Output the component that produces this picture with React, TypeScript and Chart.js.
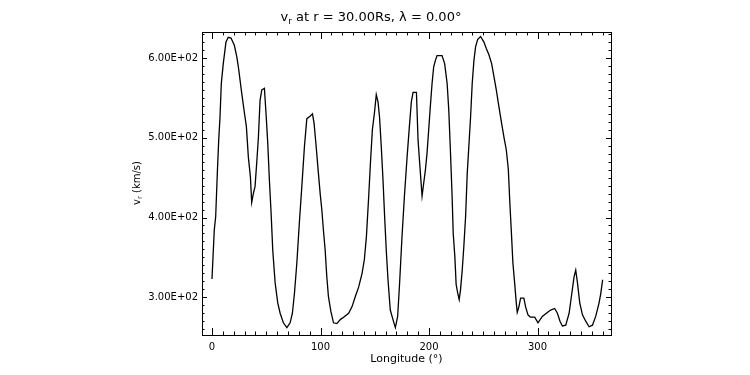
import React, { useEffect, useRef } from "react";
import { Chart, registerables } from "chart.js";

Chart.register(...registerables);

const longitude = [
  0, 2.1, 3.4, 4.9, 6.2, 7.4, 8.6, 10.4, 12.9, 15, 17.5, 20.6, 22.8, 24.3, 25.9, 27.4, 29.9, 31.7, 33.5, 35.4,
  36.6, 38.1, 39.7, 41.2, 42.8, 44.3, 45.9, 48.3, 50, 51.4, 52.9, 54.5, 56, 58.2, 60.6, 62.8, 65.8, 69, 72, 74.1,
  76, 78.2, 80.3, 82.8, 85.2, 87.4, 90.4, 92.6, 94.1, 96, 98.1, 99.7, 101.2, 102.7, 104.3, 105.8, 107.3, 109.6, 112, 115.1,
  118.2, 121.3, 125.9, 129, 132.1, 135.2, 138.3, 140.4, 142.3, 144.4, 146, 147.8, 149.7, 151.4, 153, 154.4, 156, 157.6, 159.1, 160.6,
  162.2, 164.3, 166.8, 169, 171.1, 172.9, 175.1, 177.3, 179.8, 181.9, 183.7, 185.3, 188.4, 189.9, 191.4, 192.3, 193.6, 195.1, 196.7, 198.2,
  199.7, 201.2, 202.8, 204.3, 205.9, 207.4, 212, 214.4, 216.7, 218.2, 219.8, 221.3, 222.3, 223.8, 225, 226.5, 227.8, 229, 230.6, 232.1,
  233.7, 235.2, 236.7, 238.3, 239.8, 241.4, 242.9, 244.8, 247.5, 250.6, 252.8, 255.2, 257.7, 259.8, 262, 264.4, 266.9, 269, 271.2, 273.1,
  274.5, 276.1, 277.3, 278.9, 280.4, 281.3, 282.8, 284.4, 287.4, 289, 291.2, 293.4, 297.4, 300.4, 304.4, 309, 312.1, 315.8, 318.3, 320.7,
  322.9, 326, 329.1, 331.6, 333.7, 335.2, 336.8, 338.9, 341.4, 344.4, 347.5, 350.6, 353.6, 356.7, 358.3, 360,
];

const vr = [
  323, 384, 401, 455, 497, 526, 568, 593, 620, 626, 625, 616, 602, 589, 572, 556, 531, 514, 476, 451,
  419, 430, 439, 468, 501, 547, 560, 562, 526, 493, 447, 405, 359, 318, 293, 280, 268, 262, 268, 280,
  305, 343, 389, 439, 489, 524, 527, 530, 518, 489, 455, 430, 410, 384, 359, 326, 301, 282, 268, 267,
  272, 275, 280, 288, 301, 313, 330, 347, 376, 426, 468, 510, 531, 554, 545, 526, 489, 447, 401, 359,
  322, 284, 272, 262, 276, 318, 376, 426, 476, 514, 545, 557, 557, 497, 468, 451, 427, 443, 460, 481,
  510, 539, 568, 589, 597, 603, 603, 593, 568, 535, 481, 426, 380, 351, 316, 305, 297, 309, 334, 364,
  401, 455, 489, 526, 568, 597, 614, 623, 627, 620, 612, 604, 593, 577, 560, 539, 518, 501, 485, 460,
  418, 376, 343, 318, 293, 281, 288, 299, 299, 288, 278, 275, 275, 268, 276, 281, 284, 286, 280, 270,
  264, 265, 280, 305, 326, 334, 318, 293, 278, 270, 263, 265, 276, 293, 305, 322,
];

const xTickValues = [0, 100, 200, 300];
const yTickValues = [300, 400, 500, 600];
const xMin = -9.2;
const xMax = 367.7;
const yMin = 252.7;
const yMax = 632.6;
const titleText = ["v", "r", " at r = 30.00Rs, \u03bb = 0.00\u00b0"];
const yTitleText = ["v", "r", " (km/s)"];
const xTitleText = "Longitude (\u00b0)";

const FONT = "DejaVu Sans";

const boxPlugin = {
  id: "idlBox",
  afterDraw(chart: any) {
    const { ctx, chartArea: a, scales } = chart;
    const xs = scales.x;
    const ys = scales.y;
    ctx.save();
    ctx.strokeStyle = "#000";
    ctx.lineWidth = 1;
    ctx.strokeRect(Math.round(a.left) + 0.5, Math.round(a.top) + 0.5, Math.round(a.right - a.left), Math.round(a.bottom - a.top));
    ctx.beginPath();
    for (let v = 0; v <= xMax; v += 10) {
      const px = Math.round(xs.getPixelForValue(v)) + 0.5;
      const len = v % 100 === 0 ? 7 : 3.5;
      ctx.moveTo(px, a.bottom);
      ctx.lineTo(px, a.bottom - len);
      ctx.moveTo(px, a.top);
      ctx.lineTo(px, a.top + len);
    }
    for (let v = 260; v <= yMax; v += 10) {
      const py = Math.round(ys.getPixelForValue(v)) + 0.5;
      const len = v % 100 === 0 ? 5 : 2.5;
      ctx.moveTo(a.left, py);
      ctx.lineTo(a.left + len, py);
      ctx.moveTo(a.right, py);
      ctx.lineTo(a.right - len, py);
    }
    ctx.stroke();

    ctx.fillStyle = "#000";
    // title
    const big = `13px '${FONT}'`;
    const small = `9px '${FONT}'`;
    ctx.font = big;
    const w0 = ctx.measureText(titleText[0]).width;
    const w2 = ctx.measureText(titleText[2]).width;
    ctx.font = small;
    const w1 = ctx.measureText(titleText[1]).width;
    const total = w0 + w1 + w2;
    let tx = 371 - total / 2;
    const ty = 21;
    ctx.textBaseline = "alphabetic";
    ctx.textAlign = "left";
    ctx.font = big;
    ctx.fillText(titleText[0], tx, ty);
    tx += w0;
    ctx.font = small;
    ctx.fillText(titleText[1], tx, ty + 3);
    tx += w1;
    ctx.font = big;
    ctx.fillText(titleText[2], tx, ty);

    // x title
    ctx.font = `11px '${FONT}'`;
    ctx.textAlign = "center";
    ctx.fillText(xTitleText, (a.left + a.right) / 2, 362);

    // y title rotated
    ctx.save();
    ctx.translate(140, 183);
    ctx.rotate(-Math.PI / 2);
    const yb = `10px '${FONT}'`;
    const ys2 = `7px '${FONT}'`;
    ctx.font = yb;
    const a0 = ctx.measureText(yTitleText[0]).width;
    const a2 = ctx.measureText(yTitleText[2]).width;
    ctx.font = ys2;
    const a1 = ctx.measureText(yTitleText[1]).width;
    let yx = -(a0 + a1 + a2) / 2;
    ctx.textAlign = "left";
    ctx.font = yb;
    ctx.fillText(yTitleText[0], yx, 0);
    yx += a0;
    ctx.font = ys2;
    ctx.fillText(yTitleText[1], yx, 2);
    yx += a1;
    ctx.font = yb;
    ctx.fillText(yTitleText[2], yx, 0);
    ctx.restore();
    ctx.restore();
  },
};

export default function App() {
  const ref = useRef<HTMLCanvasElement | null>(null);
  useEffect(() => {
    if (!ref.current) return;
    const points = longitude.map((x, i) => ({ x, y: vr[i] }));
    const chart = new Chart(ref.current, {
      type: "scatter",
      data: {
        datasets: [
          {
            data: points,
            showLine: true,
            borderColor: "#000",
            borderWidth: 1.3,
            pointRadius: 0,
            tension: 0,
          },
        ],
      },
      options: {
        responsive: false,
        animation: false,
        layout: { padding: { left: 0, right: 139, top: 32, bottom: 0 } },
        plugins: { legend: { display: false }, tooltip: { enabled: false }, title: { display: false } },
        scales: {
          x: {
            type: "linear",
            min: xMin,
            max: xMax,
            grid: { display: false, drawTicks: false },
            border: { display: false },
            afterBuildTicks: (s: any) => {
              s.ticks = xTickValues.map((v) => ({ value: v }));
            },
            afterFit: (s: any) => {
              s.height = 40;
            },
            ticks: {
              color: "#000",
              padding: 6,
              maxRotation: 0,
              font: { family: FONT, size: 10 },
              callback: (v: any) => String(v),
            },
          },
          y: {
            type: "linear",
            min: yMin,
            max: yMax,
            grid: { display: false, drawTicks: false },
            border: { display: false },
            afterBuildTicks: (s: any) => {
              s.ticks = yTickValues.map((v) => ({ value: v }));
            },
            afterFit: (s: any) => {
              s.width = 202;
            },
            ticks: {
              color: "#000",
              padding: 4,
              font: { family: FONT, size: 10 },
              callback: (v: any) => Number(v).toExponential(2).replace("e+", "E+0").toUpperCase(),
            },
          },
        },
      },
      plugins: [boxPlugin],
    });
    return () => chart.destroy();
  }, []);
  return (
    <div style={{ position: "absolute", left: 0, top: 0, width: 750, height: 375, background: "#fff" }}>
      <canvas ref={ref} width={750} height={375} />
    </div>
  );
}
